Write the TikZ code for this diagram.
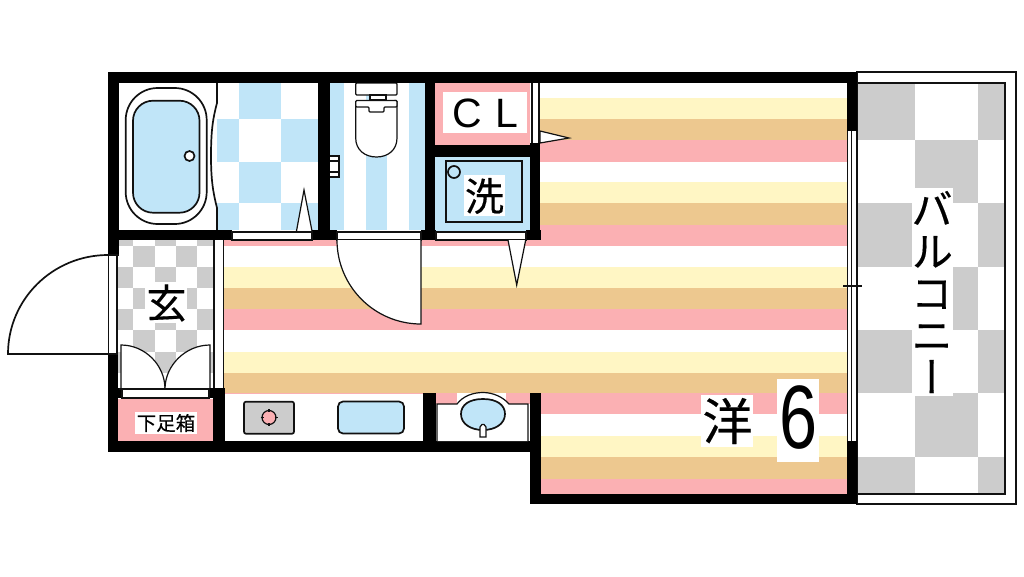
\documentclass[tikz,border=0pt]{standalone}
\usepackage{fontspec}
\setmainfont[FakeBold=0.35]{Noto Sans CJK JP}
\newfontfamily\latinf{Liberation Sans}
\newfontfamily\jpv[RawFeature=+vert,FakeBold=0.35]{Noto Sans CJK JP}
\definecolor{pk}{HTML}{FBB0B3}
\definecolor{yl}{HTML}{FFF6C4}
\definecolor{tn}{HTML}{EDC88F}
\definecolor{bl}{HTML}{C0E5F8}
\definecolor{gy}{HTML}{CCCCCC}
\definecolor{ink}{HTML}{111111}
\tikzset{
 wall/.style={fill=black,draw=none},
 thin/.style={draw=ink,line width=1.2pt},
 heavy/.style={draw=ink,line width=1.7pt},
 strip/.style={fill=white,draw=ink,line width=1.2pt},
 lbl/.style={inner sep=0pt,text=black},
}
\newcommand{\bx}[3]{\fill[#1] #2 rectangle #3;}
\begin{document}
\begin{tikzpicture}[x=1pt,y=-1pt]
\useasboundingbox (0,0) rectangle (1024,576);
\fill[white] (0,0) rectangle (1024,576);
% main floor stripes
\foreach \a/\b/\c/\d/\e in {83/98/119/140/162,162/182/203/225/246,246/267/288/309/330,330/352/373/393/414,414/436/457/479/494}{
  \fill[yl] (224,\b) rectangle (848,\c);
  \fill[tn] (224,\c) rectangle (848,\d);
  \fill[pk] (224,\d) rectangle (848,\e);
}
\fill[white] (0,72) rectangle (540,240);
\fill[pk] (224,240) rectangle (530,246);
\fill[white] (224,394) rectangle (530,505);
\fill[pk] (436,394) rectangle (530,404);
% room labels backgrounds
\fill[white] (701,395) rectangle (753,447);
\fill[white] (777,379) rectangle (819,462);
% balcony
\draw[thin] (857,72) rectangle (1016,504);
\foreach \x/\X/\y/\Y in {858/915/83/140,978/1005/83/140,915/978/140/203,858/915/203/267,978/1005/203/267,915/978/267/330,858/915/330/393,978/1005/330/393,915/978/393/457,858/915/457/494,978/1005/457/494}{
  \fill[gy] (\x,\y) rectangle (\X,\Y);
}
\draw[thin] (858,83) -- (1005,83) -- (1005,494) -- (858,494);
\fill[white] (912,188) rectangle (953,396);
% bath
\foreach \x/\X/\y/\Y in {239/281/83/119,217/239/119/162,281/318/119/162,239/281/162/203,217/239/203/230,281/318/203/230}{
  \fill[bl] (\x,\y) rectangle (\X,\Y);
}
\draw[heavy] (217,83) -- (217,103) .. controls (213,118) and (211,130) .. (211,156) .. controls (211,180) and (213,192) .. (217,208) -- (217,230);
\draw[heavy,rounded corners=32pt] (125.7,88) rectangle (206.7,224);
\draw[heavy,fill=bl,rounded corners=20pt] (133,100.7) rectangle (199.5,212.7);
\draw[heavy,fill=white] (189.5,156) circle[radius=5];
\draw[thin,fill=white] (296.5,231) -- (304,190) -- (312,231);
% toilet
\fill[bl] (329,83) rectangle (344,230);
\fill[bl] (366,83) rectangle (387,230);
\fill[bl] (409,83) rectangle (425,230);
\draw[thin,fill=white,rounded corners=1pt] (355.7,83) rectangle (397,95);
\draw[thin,fill=white] (370,95) rectangle (386,100);
\draw[thin,fill=white] (355.7,102) [rounded corners=1pt] -- (397,100.5) [sharp corners] -- (397,138) .. controls (397,150) and (388,157) .. (376.5,157) .. controls (365,157) and (355.7,150) .. (355.7,138) -- cycle;
\draw[thin,fill=white,rounded corners=1pt] (355.7,100.5) -- (397,100.5) -- (397,107) -- (384,107) -- (384,112) -- (369,112) -- (369,107) -- (355.7,107) -- cycle;
\draw[thin,fill=white] (329,156) rectangle (339,177);
\draw[thin] (329,161) -- (339,161) (329,172) -- (339,172);
% CL
\fill[pk] (435,83) rectangle (530,145);
\fill[white] (443,92) rectangle (527,133);
\node[lbl,font=\latinf\fontsize{41}{41}\selectfont] (cl) at (485.5,113.5) {C\hspace{14pt}L};
\draw[thin,fill=white] (540,131) -- (569,138) -- (540,143) -- cycle;
% laundry
\fill[bl] (435,156) rectangle (530,231);
\draw[heavy] (445.7,161) rectangle (521.7,222);
\draw[heavy] (454,172) circle[radius=6];
\fill[white] (464,175) rectangle (505,216);
\node[lbl,font=\fontsize{39}{39}\selectfont] (wash) at (484.5,196) {洗};
% entrance checker
\foreach \x/\X/\y/\Y in {118/133/240/246,155/176/240/246,197/213/240/246,
 133/155/246/267,176/197/246/267,
 118/133/267/288,155/176/267/288,197/213/267/288,
 133/155/288/309,176/197/288/309,
 118/133/309/330,155/176/309/330,197/213/309/330,
 133/155/330/352,176/197/330/352,
 118/133/352/373,155/176/352/373,197/213/352/373,
 133/155/373/389,176/197/373/389}{
  \fill[gy] (\x,\y) rectangle (\X,\Y);
}
\fill[white] (145,282) rectangle (187,323);
\node[lbl,font=\fontsize{40}{40}\selectfont] (gen) at (166.5,303) {玄};
% small doors
\draw[thin,fill=white] (121,389) -- (121,345) .. controls (145,345) and (165,365) .. (165,389) -- cycle;
\draw[thin,fill=white] (210,389) -- (210,345) .. controls (186,345) and (165,365) .. (165,389) -- cycle;
% entry door
\draw[heavy,fill=white] (108,354) -- (8,354) .. controls (8,299) and (53,255) .. (108,255);
% main walls
\bx{wall}{(108,72)}{(857,83)}
\bx{wall}{(108,72)}{(119,255)}
\bx{wall}{(108,354)}{(118,452)}
\bx{wall}{(108,441)}{(540,452)}
\bx{wall}{(119,230)}{(232,240)}
\bx{wall}{(312,230)}{(337,240)}
\bx{wall}{(421,230)}{(436,240)}
\bx{wall}{(526,230)}{(541,240)}
\bx{wall}{(318,72)}{(329.5,230)}
\bx{wall}{(425,72)}{(435,230)}
\bx{wall}{(530,72)}{(540,83)}
\bx{wall}{(530,143)}{(540,240)}
\bx{wall}{(435,145)}{(530,156.5)}
\bx{wall}{(847,72)}{(857,131)}
\bx{wall}{(847,441)}{(857,504)}
\bx{wall}{(530,494)}{(857,504)}
\bx{wall}{(530,393)}{(540.5,504)}
% walls round the closet
\fill[white] (532,83) rectangle (539,143);
\draw[thin] (532,83) -- (532,143) (539,83) -- (539,143);
\bx{wall}{(209,388)}{(224,398)}
\bx{wall}{(213,388)}{(225,441)}
\bx{wall}{(423,393)}{(436,441)}
\bx{wall}{(108,388)}{(122,398)}
% 下足箱
\fill[pk] (118,399) rectangle (213,441);
\fill[white] (135,412) rectangle (197,434);
\node[lbl,font=\fontsize{19.5}{19.5}\selectfont] (shoe) at (166,423) {下足箱};
\draw[strip] (122,389) rectangle (209,398);
\draw[thin] (119,389) -- (209,389);
% kitchen
\draw[heavy,fill=gy,rounded corners=2pt] (244,401.7) rectangle (294,433.7);
\draw[thin,fill=pk] (269,417.5) circle[radius=7];
\draw[thin] (269,409) -- (269,412) (269,423) -- (269,426) (260.5,417.5) -- (263.5,417.5) (274.5,417.5) -- (277.5,417.5);
\draw[heavy,fill=bl,rounded corners=5pt] (338,401.5) rectangle (404,433.5);
% basin
\fill[white] (457,393) rectangle (506,404);
\path[fill=white] (437,404) -- (457,404) .. controls (463,396) and (473,392.5) .. (483,392.5) .. controls (493,392.5) and (503,397) .. (509,404) -- (528,404) -- (528,441) -- (437,441) -- cycle;
\draw[thin] (437,441) -- (437,404) -- (457,404) .. controls (463,396) and (473,392.5) .. (483,392.5) .. controls (493,392.5) and (503,397) .. (509,404) -- (528,404) -- (528,441);
\draw[heavy,fill=bl] (483,399) .. controls (497,399) and (505,405) .. (505,414) .. controls (505,424) and (495,430) .. (483,430) .. controls (471,430) and (461,424) .. (461,414) .. controls (461,405) and (469,399) .. (483,399) -- cycle;
\draw[thin,fill=white] (480,437) -- (480,427) -- (482,424.5) -- (484,424.5) -- (486,427) -- (486,437) -- cycle;
% strips under the upper walls
\draw[strip] (232,232) rectangle (312,240);
\draw[strip] (337,232) rectangle (421,240);
\draw[strip] (436,232) rectangle (526,240);
% entrance side strips
\fill[white] (108,255) rectangle (117,354);
\draw[thin] (108.5,255) -- (108.5,354) (117,255) -- (117,354) (108,255) -- (119,255) (108,354) -- (118,354);
\fill[white] (214,240) rectangle (223,388);
\draw[thin] (214,240) -- (214,388) (223.5,240) -- (223.5,388);
% doors on the main room
\draw[thin,fill=white] (337,240) .. controls (337,286.4) and (374.6,324) .. (421,324) -- (421,240);
\draw[thin,fill=white] (508,240) -- (516.7,285) -- (525.7,240);
% window
\fill[white] (847,131) rectangle (857,441);
\draw[thin] (847.5,131) -- (847.5,441) (851.5,131) -- (851.5,441) (856.5,131) -- (856.5,441);
\draw[thin] (843,286) -- (862,286);
% labels
\node[lbl,font=\fontsize{50}{50}\selectfont] (you) at (727.5,421) {洋};
\node[lbl,font=\latinf\fontsize{90}{90}\selectfont,xscale=.76] (six) at (798.5,418) {6};
\node[lbl,font=\jpv\fontsize{42}{42}\selectfont,align=center] (bal) at (932,292) {バ\\ル\\コ\\ニ\\ー};
\end{tikzpicture}
\end{document}
